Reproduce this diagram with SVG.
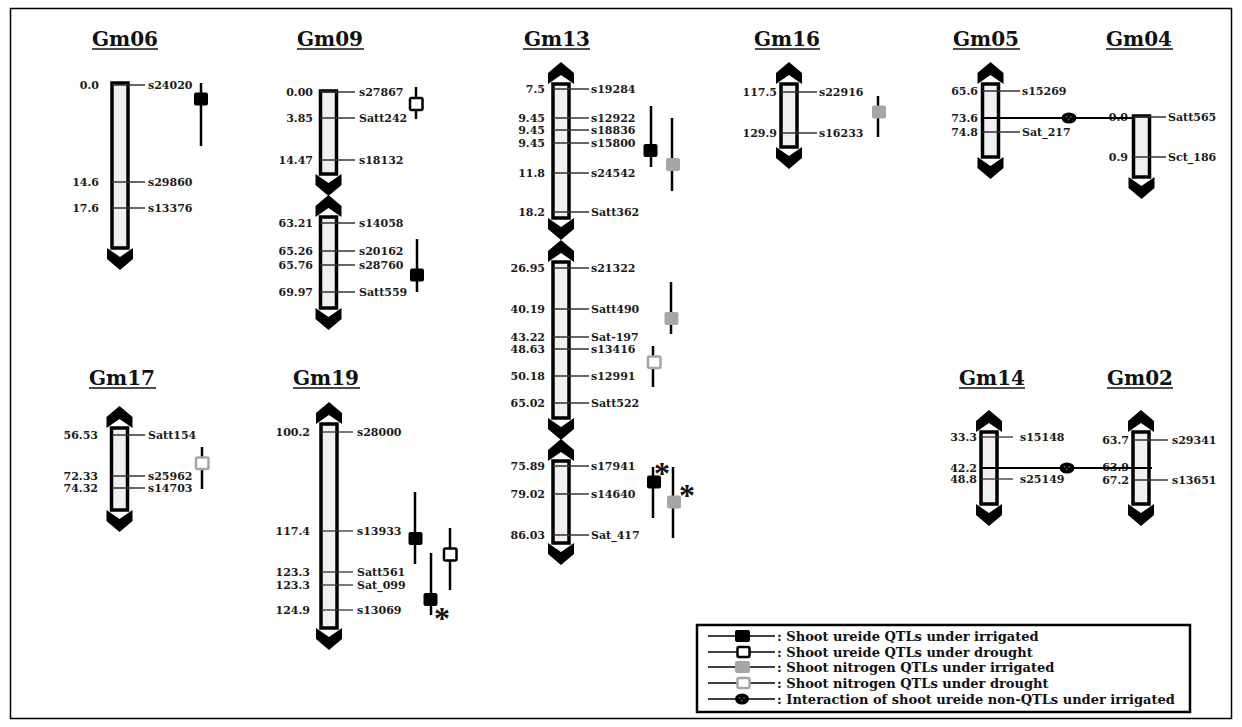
<svg xmlns="http://www.w3.org/2000/svg" width="1242" height="727" viewBox="0 0 1242 727">
<style>
.bg{fill:#fff}
.frame{fill:none;stroke:#000;stroke-width:1.5}
.chr{fill:#f0f0f0;stroke:#000;stroke-width:3.5}
.tel{fill:#000}
.mk{stroke:#333;stroke-width:1.3}
.t{font-family:"DejaVu Serif",serif;font-weight:bold;font-size:11px;fill:#1a1a1a}
.v{text-anchor:end}
.title{font-family:"DejaVu Serif",serif;font-weight:bold;font-size:20px;fill:#111;text-anchor:middle}
.ul{stroke:#111;stroke-width:1.6}
.q{stroke:#000;stroke-width:2.5}
.qb{fill:#000}
.qo{fill:#fff;stroke:#000;stroke-width:2.5}
.qg{fill:#a6a6a6}
.qgo{fill:#fff;stroke:#a6a6a6;stroke-width:2.5}
.ast{font-family:"Liberation Serif",serif;font-weight:bold;font-size:32px;fill:#111;text-anchor:middle}
.il{stroke:#000;stroke-width:2}
.dot{fill:#666}
.lg{font-family:"DejaVu Serif",serif;font-weight:bold;font-size:13px;fill:#111}
.lgl{stroke:#000;stroke-width:1.5}
</style>
<rect class="bg" x="0" y="0" width="1242" height="727"/>
<rect class="frame" x="10.5" y="8.5" width="1221" height="710"/>

<g id="Gm06">
<text class="title" x="125" y="46">Gm06</text><line class="ul" x1="92" y1="49" x2="158" y2="49"/>
<rect class="chr" x="112" y="83" width="16" height="165"/>
<path class="tel" d="M107,248 L120,257 L133,248 L133,259 L120,270 L107,259 Z"/>
<line class="mk" x1="112" y1="85" x2="145" y2="85"/><text class="t v" x="99" y="89">0.0</text><text class="t" x="148" y="89">s24020</text>
<line class="mk" x1="112" y1="182" x2="145" y2="182"/><text class="t v" x="99" y="186">14.6</text><text class="t" x="148" y="186">s29860</text>
<line class="mk" x1="112" y1="208" x2="145" y2="208"/><text class="t v" x="99" y="212">17.6</text><text class="t" x="148" y="212">s13376</text>
<line class="q" x1="201" y1="83" x2="201" y2="146"/><rect class="qb" x="194" y="92.5" width="14" height="13" rx="2"/>
</g>

<g id="Gm09">
<text class="title" x="330" y="46">Gm09</text><line class="ul" x1="297" y1="49" x2="364" y2="49"/>
<rect class="chr" x="320.5" y="91" width="16" height="83"/>
<path class="tel" d="M315.5,174 L328.5,183 L341.5,174 L341.5,185 L328.5,196 L315.5,185 Z"/>
<path class="tel" d="M315.5,217 L328.5,208 L341.5,217 L341.5,206 L328.5,195 L315.5,206 Z"/>
<rect class="chr" x="320.5" y="217" width="16" height="91"/>
<path class="tel" d="M315.5,308 L328.5,317 L341.5,308 L341.5,319 L328.5,330 L315.5,319 Z"/>
<line class="mk" x1="320.5" y1="92" x2="355" y2="92"/><text class="t v" x="313" y="96">0.00</text><text class="t" x="359" y="96">s27867</text>
<line class="mk" x1="320.5" y1="118" x2="355" y2="118"/><text class="t v" x="313" y="122">3.85</text><text class="t" x="359" y="122">Satt242</text>
<line class="mk" x1="320.5" y1="160" x2="355" y2="160"/><text class="t v" x="313" y="164">14.47</text><text class="t" x="359" y="164">s18132</text>
<line class="mk" x1="320.5" y1="223" x2="355" y2="223"/><text class="t v" x="313" y="227">63.21</text><text class="t" x="359" y="227">s14058</text>
<line class="mk" x1="320.5" y1="251" x2="355" y2="251"/><text class="t v" x="313" y="255">65.26</text><text class="t" x="359" y="255">s20162</text>
<line class="mk" x1="320.5" y1="265" x2="355" y2="265"/><text class="t v" x="313" y="269">65.76</text><text class="t" x="359" y="269">s28760</text>
<line class="mk" x1="320.5" y1="292" x2="355" y2="292"/><text class="t v" x="313" y="296">69.97</text><text class="t" x="359" y="296">Satt559</text>
<line class="q" x1="416" y1="87" x2="416" y2="119"/><rect class="qo" x="410" y="98" width="12.5" height="12" rx="1.5"/>
<line class="q" x1="417" y1="239" x2="417" y2="292"/><rect class="qb" x="410" y="268.5" width="14" height="13" rx="2"/>
</g>

<g id="Gm13">
<text class="title" x="557" y="46">Gm13</text><line class="ul" x1="523" y1="49" x2="590" y2="49"/>
<path class="tel" d="M548,84 L561,75 L574,84 L574,73 L561,62 L548,73 Z"/>
<rect class="chr" x="553" y="84" width="16" height="134"/>
<path class="tel" d="M548,218 L561,227 L574,218 L574,229 L561,240 L548,229 Z"/>
<path class="tel" d="M548,262 L561,253 L574,262 L574,251 L561,240 L548,251 Z"/>
<rect class="chr" x="553" y="262" width="16" height="156"/>
<path class="tel" d="M548,418 L561,427 L574,418 L574,429 L561,440 L548,429 Z"/>
<path class="tel" d="M548,461 L561,452 L574,461 L574,450 L561,439 L548,450 Z"/>
<rect class="chr" x="553" y="461" width="16" height="82"/>
<path class="tel" d="M548,543 L561,552 L574,543 L574,554 L561,565 L548,554 Z"/>
<line class="mk" x1="553" y1="89" x2="589" y2="89"/><text class="t v" x="545" y="93">7.5</text><text class="t" x="591" y="93">s19284</text>
<line class="mk" x1="553" y1="118" x2="589" y2="118"/><text class="t v" x="545" y="122">9.45</text><text class="t" x="591" y="122">s12922</text>
<line class="mk" x1="553" y1="130" x2="589" y2="130"/><text class="t v" x="545" y="134">9.45</text><text class="t" x="591" y="134">s18836</text>
<line class="mk" x1="553" y1="143" x2="589" y2="143"/><text class="t v" x="545" y="147">9.45</text><text class="t" x="591" y="147">s15800</text>
<line class="mk" x1="553" y1="173" x2="589" y2="173"/><text class="t v" x="545" y="177">11.8</text><text class="t" x="591" y="177">s24542</text>
<line class="mk" x1="553" y1="212" x2="589" y2="212"/><text class="t v" x="545" y="216">18.2</text><text class="t" x="591" y="216">Satt362</text>
<line class="mk" x1="553" y1="268" x2="589" y2="268"/><text class="t v" x="545" y="272">26.95</text><text class="t" x="591" y="272">s21322</text>
<line class="mk" x1="553" y1="309" x2="589" y2="309"/><text class="t v" x="545" y="313">40.19</text><text class="t" x="591" y="313">Satt490</text>
<line class="mk" x1="553" y1="337" x2="589" y2="337"/><text class="t v" x="545" y="341">43.22</text><text class="t" x="591" y="341">Sat-197</text>
<line class="mk" x1="553" y1="349" x2="589" y2="349"/><text class="t v" x="545" y="353">48.63</text><text class="t" x="591" y="353">s13416</text>
<line class="mk" x1="553" y1="376" x2="589" y2="376"/><text class="t v" x="545" y="380">50.18</text><text class="t" x="591" y="380">s12991</text>
<line class="mk" x1="553" y1="403" x2="589" y2="403"/><text class="t v" x="545" y="407">65.02</text><text class="t" x="591" y="407">Satt522</text>
<line class="mk" x1="553" y1="466" x2="589" y2="466"/><text class="t v" x="545" y="470">75.89</text><text class="t" x="591" y="470">s17941</text>
<line class="mk" x1="553" y1="494" x2="589" y2="494"/><text class="t v" x="545" y="498">79.02</text><text class="t" x="591" y="498">s14640</text>
<line class="mk" x1="553" y1="535" x2="589" y2="535"/><text class="t v" x="545" y="539">86.03</text><text class="t" x="591" y="539">Sat_417</text>
<line class="q" x1="651" y1="106" x2="651" y2="167"/><rect class="qb" x="643.5" y="144" width="14" height="13" rx="2"/>
<line class="q" x1="672" y1="118" x2="672" y2="191"/><rect class="qg" x="666" y="158" width="14" height="13" rx="2"/>
<line class="q" x1="671" y1="282" x2="671" y2="334"/><rect class="qg" x="664.5" y="312" width="14" height="13" rx="2"/>
<line class="q" x1="653" y1="346" x2="653" y2="387"/><rect class="qgo" x="648" y="356.5" width="12.5" height="11.5" rx="1.5"/>
<line class="q" x1="653" y1="467" x2="653" y2="518"/><rect class="qb" x="647" y="475.5" width="14" height="13" rx="2"/>
<line class="q" x1="673" y1="467" x2="673" y2="538"/><rect class="qg" x="667" y="495.5" width="14" height="13" rx="2"/>
<text class="ast" x="662" y="484">*</text>
<text class="ast" x="687" y="506">*</text>
</g>

<g id="Gm16">
<text class="title" x="787" y="46">Gm16</text><line class="ul" x1="755" y1="49" x2="820" y2="49"/>
<path class="tel" d="M776,84 L789,75 L802,84 L802,73 L789,62 L776,73 Z"/>
<rect class="chr" x="781" y="84" width="16" height="63"/>
<path class="tel" d="M776,147 L789,156 L802,147 L802,158 L789,169 L776,158 Z"/>
<line class="mk" x1="781" y1="92" x2="817" y2="92"/><text class="t v" x="777" y="96">117.5</text><text class="t" x="819" y="96">s22916</text>
<line class="mk" x1="781" y1="133" x2="817" y2="133"/><text class="t v" x="777" y="137">129.9</text><text class="t" x="819" y="137">s16233</text>
<line class="q" x1="878" y1="96" x2="878" y2="137"/><rect class="qg" x="872" y="105.5" width="14" height="13" rx="2"/>
</g>

<g id="Gm05">
<text class="title" x="986" y="46">Gm05</text><line class="ul" x1="953" y1="49" x2="1020" y2="49"/>
<path class="tel" d="M977.5,84 L990.5,75 L1003.5,84 L1003.5,73 L990.5,62 L977.5,73 Z"/>
<rect class="chr" x="982.5" y="84" width="16" height="73"/>
<path class="tel" d="M977.5,157 L990.5,166 L1003.5,157 L1003.5,168 L990.5,179 L977.5,168 Z"/>
<line class="mk" x1="982.5" y1="91" x2="1020" y2="91"/><text class="t v" x="978" y="95">65.6</text><text class="t" x="1022" y="95">s15269</text>
<text class="t v" x="978" y="122">73.6</text>
<line class="mk" x1="982.5" y1="132" x2="1020" y2="132"/><text class="t v" x="978" y="136">74.8</text><text class="t" x="1022" y="136">Sat_217</text>
</g>

<g id="Gm04">
<text class="title" x="1139" y="46">Gm04</text><line class="ul" x1="1106" y1="49" x2="1173" y2="49"/>
<rect class="chr" x="1133.5" y="116" width="16" height="61"/>
<path class="tel" d="M1128.5,177 L1141.5,186 L1154.5,177 L1154.5,188 L1141.5,199 L1128.5,188 Z"/>
<line class="mk" x1="1133.5" y1="117" x2="1166" y2="117"/><text class="t v" x="1128" y="121">0.0</text><text class="t" x="1168" y="121">Satt565</text>
<line class="mk" x1="1133.5" y1="157" x2="1166" y2="157"/><text class="t v" x="1128" y="161">0.9</text><text class="t" x="1168" y="161">Sct_186</text>
</g>

<g id="Gm17">
<text class="title" x="122" y="385">Gm17</text><line class="ul" x1="89" y1="388" x2="156" y2="388"/>
<path class="tel" d="M106.5,428 L119.5,419 L132.5,428 L132.5,417 L119.5,406 L106.5,417 Z"/>
<rect class="chr" x="111.5" y="428" width="16" height="82"/>
<path class="tel" d="M106.5,510 L119.5,519 L132.5,510 L132.5,521 L119.5,532 L106.5,521 Z"/>
<line class="mk" x1="111.5" y1="435" x2="145" y2="435"/><text class="t v" x="98" y="439">56.53</text><text class="t" x="148" y="439">Satt154</text>
<line class="mk" x1="111.5" y1="476" x2="145" y2="476"/><text class="t v" x="98" y="480">72.33</text><text class="t" x="148" y="480">s25962</text>
<line class="mk" x1="111.5" y1="488" x2="145" y2="488"/><text class="t v" x="98" y="492">74.32</text><text class="t" x="148" y="492">s14703</text>
<line class="q" x1="202" y1="447" x2="202" y2="489"/><rect class="qgo" x="196" y="457.5" width="12.5" height="11.5" rx="1.5"/>
</g>

<g id="Gm19">
<text class="title" x="326" y="385">Gm19</text><line class="ul" x1="293" y1="388" x2="360" y2="388"/>
<path class="tel" d="M316,424 L329,415 L342,424 L342,413 L329,402 L316,413 Z"/>
<rect class="chr" x="321" y="424" width="16" height="204"/>
<path class="tel" d="M316,628 L329,637 L342,628 L342,639 L329,650 L316,639 Z"/>
<line class="mk" x1="321" y1="432" x2="353" y2="432"/><text class="t v" x="310" y="436">100.2</text><text class="t" x="357" y="436">s28000</text>
<line class="mk" x1="321" y1="531" x2="353" y2="531"/><text class="t v" x="310" y="535">117.4</text><text class="t" x="357" y="535">s13933</text>
<line class="mk" x1="321" y1="572" x2="353" y2="572"/><text class="t v" x="310" y="576">123.3</text><text class="t" x="357" y="576">Satt561</text>
<line class="mk" x1="321" y1="585" x2="353" y2="585"/><text class="t v" x="310" y="589">123.3</text><text class="t" x="357" y="589">Sat_099</text>
<line class="mk" x1="321" y1="610" x2="353" y2="610"/><text class="t v" x="310" y="614">124.9</text><text class="t" x="357" y="614">s13069</text>
<line class="q" x1="415" y1="492" x2="415" y2="564"/><rect class="qb" x="408.5" y="532" width="14" height="13" rx="2"/>
<line class="q" x1="450" y1="528" x2="450" y2="590"/><rect class="qo" x="444" y="548.5" width="12.5" height="12" rx="1.5"/>
<line class="q" x1="431" y1="553" x2="431" y2="615"/><rect class="qb" x="423.5" y="593" width="14" height="13" rx="2"/>
<text class="ast" x="442" y="629">*</text>
</g>

<g id="Gm14">
<text class="title" x="992" y="385">Gm14</text><line class="ul" x1="959" y1="388" x2="1025" y2="388"/>
<path class="tel" d="M976,432 L989,423 L1002,432 L1002,421 L989,410 L976,421 Z"/>
<rect class="chr" x="981" y="432" width="16" height="72"/>
<path class="tel" d="M976,504 L989,513 L1002,504 L1002,515 L989,526 L976,515 Z"/>
<line class="mk" x1="981" y1="437" x2="1013" y2="437"/><text class="t v" x="977" y="441">33.3</text><text class="t" x="1020" y="441">s15148</text>
<text class="t v" x="977" y="472">42.2</text>
<line class="mk" x1="981" y1="479" x2="1013" y2="479"/><text class="t v" x="977" y="483">48.8</text><text class="t" x="1020" y="483">s25149</text>
</g>

<g id="Gm02">
<text class="title" x="1140" y="385">Gm02</text><line class="ul" x1="1107" y1="388" x2="1173" y2="388"/>
<path class="tel" d="M1128,432 L1141,423 L1154,432 L1154,421 L1141,410 L1128,421 Z"/>
<rect class="chr" x="1133" y="432" width="16" height="72"/>
<path class="tel" d="M1128,504 L1141,513 L1154,504 L1154,515 L1141,526 L1128,515 Z"/>
<line class="mk" x1="1133" y1="440" x2="1168" y2="440"/><text class="t v" x="1129" y="444">63.7</text><text class="t" x="1172" y="444">s29341</text>
<text class="t v" x="1129" y="471">63.9</text>
<line class="mk" x1="1133" y1="480" x2="1168" y2="480"/><text class="t v" x="1129" y="484">67.2</text><text class="t" x="1172" y="484">s13651</text>
</g>

<g id="connectors">
<line class="il" x1="982.5" y1="118" x2="1133.5" y2="118"/>
<ellipse cx="1069" cy="118" rx="7.5" ry="5.5" fill="#000"/>
<circle class="dot" cx="1066.5" cy="116.8" r="0.9"/><circle class="dot" cx="1071" cy="116.8" r="0.9"/><circle class="dot" cx="1068.8" cy="119.5" r="0.9"/>
<line class="il" x1="981" y1="468" x2="1152" y2="468"/>
<ellipse cx="1067" cy="468" rx="7.5" ry="5.5" fill="#000"/>
<circle class="dot" cx="1064.5" cy="466.8" r="0.9"/><circle class="dot" cx="1069" cy="466.8" r="0.9"/><circle class="dot" cx="1066.8" cy="469.5" r="0.9"/>
</g>

<g id="legend">
<rect x="697" y="625" width="493" height="87" fill="#fff" stroke="#000" stroke-width="2.5"/>
<line class="lgl" x1="708" y1="636" x2="775" y2="636"/><rect class="qb" x="735" y="630" width="15" height="12" rx="2"/>
<text class="lg" x="777" y="640.5">: Shoot ureide QTLs under irrigated</text>
<line class="lgl" x1="708" y1="652" x2="775" y2="652"/><rect class="qo" x="737.5" y="647" width="12" height="10" rx="1.5"/>
<text class="lg" x="777" y="656.5">: Shoot ureide QTLs under drought</text>
<line class="lgl" x1="708" y1="667" x2="775" y2="667"/><rect class="qg" x="735" y="661" width="15" height="12" rx="2"/>
<text class="lg" x="777" y="671.5">: Shoot nitrogen QTLs under irrigated</text>
<line class="lgl" x1="708" y1="683" x2="775" y2="683"/><rect class="qgo" x="737.5" y="678" width="12" height="10" rx="1.5"/>
<text class="lg" x="777" y="687.5">: Shoot nitrogen QTLs under drought</text>
<line class="lgl" x1="708" y1="699" x2="775" y2="699"/><ellipse cx="742" cy="699" rx="7" ry="5.5" fill="#000"/>
<circle class="dot" cx="739.5" cy="697.8" r="0.9"/><circle class="dot" cx="744" cy="697.8" r="0.9"/><circle class="dot" cx="741.8" cy="700.5" r="0.9"/>
<text class="lg" x="777" y="703.5">: Interaction of shoot ureide non-QTLs under irrigated</text>
</g>
</svg>
